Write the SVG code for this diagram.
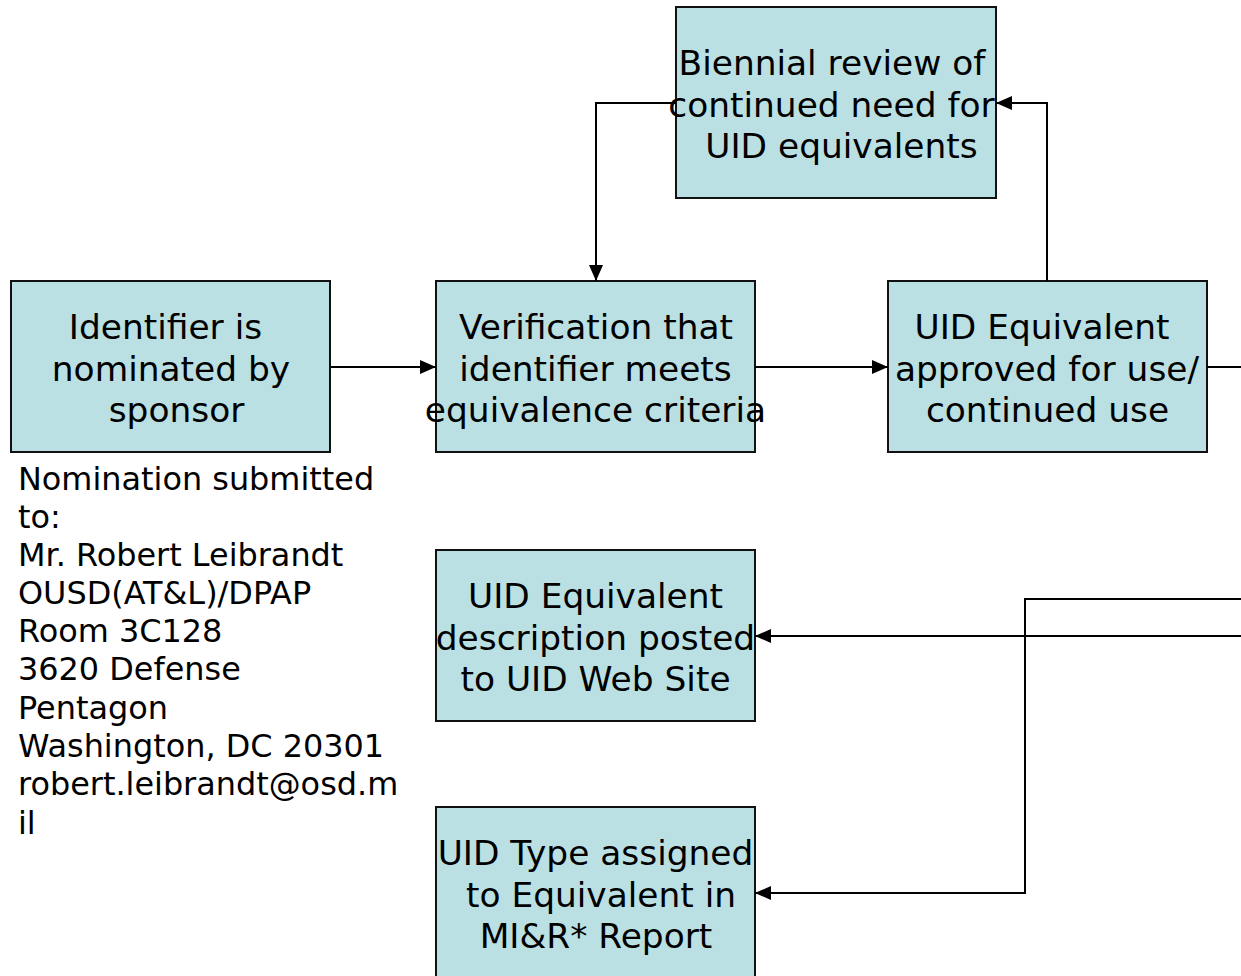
<svg xmlns="http://www.w3.org/2000/svg" width="1241" height="976" viewBox="0 0 1241 976">
  <style>
    .box { fill: #BAE0E3; stroke: #111; stroke-width: 2; }
    .lbl { font-family: "DejaVu Sans", "Liberation Sans", sans-serif; font-size: 34.4px; fill: #000; text-anchor: middle; }
    .note { font-family: "DejaVu Sans", "Liberation Sans", sans-serif; font-size: 31.9px; fill: #000; }
    .wire { fill: none; stroke: #000; stroke-width: 2; }
  </style>
  <defs>
    <marker id="arrow" viewBox="0 0 16 14" refX="16" refY="7" markerWidth="16" markerHeight="14" markerUnits="userSpaceOnUse" orient="auto">
      <path d="M0,0 L16,7 L0,14 Z" fill="#000"/>
    </marker>
  </defs>
  <rect width="1241" height="976" fill="#fff"/>

  <!-- process steps -->
  <g id="biennial-review">
    <rect class="box" x="676" y="7" width="320" height="191"/>
    <text class="lbl"><tspan x="832" y="75">Biennial review of</tspan><tspan x="831.5" y="116.5">continued need for</tspan><tspan x="841.5" y="158">UID equivalents</tspan></text>
  </g>
  <g id="nominated">
    <rect class="box" x="11" y="281" width="319" height="171"/>
    <text class="lbl"><tspan x="165.5" y="339">Identifier is</tspan><tspan x="171" y="380.5">nominated by</tspan><tspan x="176.5" y="422">sponsor</tspan></text>
  </g>
  <g id="verification">
    <rect class="box" x="436" y="281" width="319" height="171"/>
    <text class="lbl"><tspan x="596" y="339">Verification that</tspan><tspan x="595.5" y="380.5">identifier meets</tspan><tspan x="595.5" y="422">equivalence criteria</tspan></text>
  </g>
  <g id="approved">
    <rect class="box" x="888" y="281" width="319" height="171"/>
    <text class="lbl"><tspan x="1042" y="339">UID Equivalent</tspan><tspan x="1047" y="380.5">approved for use/</tspan><tspan x="1047.5" y="422">continued use</tspan></text>
  </g>
  <g id="web-posting">
    <rect class="box" x="436" y="550" width="319" height="171"/>
    <text class="lbl"><tspan x="595.5" y="608">UID Equivalent</tspan><tspan x="595.5" y="649.5">description posted</tspan><tspan x="595.5" y="691">to UID Web Site</tspan></text>
  </g>
  <g id="type-assigned">
    <rect class="box" x="436" y="807" width="319" height="180"/>
    <text class="lbl"><tspan x="595.5" y="865">UID Type assigned</tspan><tspan x="601" y="906.5">to Equivalent in</tspan><tspan x="596" y="948">MI&amp;R* Report</tspan></text>
  </g>

  <!-- submission address -->
  <g id="submission-note">
    <text class="note">
      <tspan x="18" y="490">Nomination submitted</tspan>
      <tspan x="18" y="528">to:</tspan>
      <tspan x="18" y="566">Mr. Robert Leibrandt</tspan>
      <tspan x="18" y="604">OUSD(AT&amp;L)/DPAP</tspan>
      <tspan x="18" y="642">Room 3C128</tspan>
      <tspan x="18" y="680">3620 Defense</tspan>
      <tspan x="18" y="719">Pentagon</tspan>
      <tspan x="18" y="757">Washington, DC 20301</tspan>
      <tspan x="18" y="795">robert.leibrandt@osd.m</tspan>
      <tspan x="18" y="834">il</tspan>
    </text>
  </g>

  <!-- connectors -->
  <g id="connectors">
    <path class="wire" d="M330,367 H436" marker-end="url(#arrow)"/>
    <path class="wire" d="M755,367 H888" marker-end="url(#arrow)"/>
    <path class="wire" d="M1047,281 V103 H996" marker-end="url(#arrow)"/>
    <path class="wire" d="M676,103 H596 V281" marker-end="url(#arrow)"/>
    <path class="wire" d="M1207,367 H1241"/>
    <path class="wire" d="M1241,636 H755" marker-end="url(#arrow)"/>
    <path class="wire" d="M1241,599 H1025 V893 H755" marker-end="url(#arrow)"/>
  </g>
</svg>
